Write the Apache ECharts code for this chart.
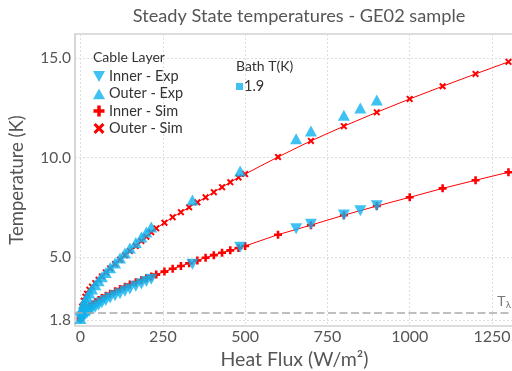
<!DOCTYPE html>
<html><head><meta charset="utf-8">
<script src="https://cdn.jsdelivr.net/npm/echarts@6/dist/echarts.min.js"></script>
<style>html,body{margin:0;padding:0;background:#fff}#c{width:512px;height:371px}</style>
</head><body><div id="c"></div>
<script>
const expFlux = [0,5,10,15,20,27,35,45,55,65,77,90,105,120,135,150,168,185,200,215,340,485,655,700,800,850,900];
const outerExpT = [1.9,2.4,2.65,2.85,3.0,3.18,3.38,3.6,3.8,4.0,4.22,4.45,4.7,4.95,5.2,5.45,5.73,6.0,6.25,6.5,7.87,9.33,10.95,11.34,12.13,12.5,12.9];
const innerExpT = [1.9,1.97,2.04,2.11,2.18,2.27,2.36,2.47,2.58,2.69,2.81,2.93,3.05,3.15,3.27,3.38,3.52,3.64,3.76,3.87,4.63,5.49,6.42,6.64,7.11,7.33,7.58];
const simFlux = [0,5,10,15,20,27,35,45,55,65,77,90,105,120,135,150,168,185,200,215,230,255,280,305,330,355,380,405,430,455,480,500,600,700,800,900,1000,1100,1200,1300];
const innerSimT = [1.9,2.1,2.22,2.32,2.4,2.5,2.6,2.72,2.83,2.93,3.04,3.15,3.27,3.39,3.5,3.61,3.73,3.84,3.93,4.02,4.11,4.26,4.40,4.54,4.68,4.82,4.96,5.09,5.21,5.33,5.45,5.55,6.12,6.6,7.1,7.56,8.0,8.45,8.86,9.26];
const outerSimT = [1.9,2.5,2.8,3.0,3.15,3.35,3.5,3.68,3.85,4.02,4.22,4.42,4.64,4.86,5.08,5.3,5.55,5.8,6.02,6.24,6.44,6.72,7.0,7.25,7.5,7.75,8.0,8.26,8.51,8.76,9.0,9.17,10.03,10.84,11.58,12.28,12.95,13.59,14.21,14.82];
const bathTemps = ['1.9'];
const xTicks = [0,250,500,750,1000,1250];
const yTicks = [1.8,5,10,15];
const tLambda = 2.17;

const FONT = 'Lato';
const TXT = '#555';
const CYAN = '#0fb3ee';
const RED = '#ff0000';
const triDown = 'path://M0,0 L10,0 L5,9 Z';
const triUp = 'path://M5,0 L10,9 L0,9 Z';
const plus = 'path://M3.4,0 H6.6 V3.4 H10 V6.6 H6.6 V10 H3.4 V6.6 H0 V3.4 H3.4 Z';
const cross = 'path://M0,2 L2,0 L5,3 L8,0 L10,2 L7,5 L10,8 L8,10 L5,7 L2,10 L0,8 L3,5 Z';

const zip = (xs, ys) => xs.map((x, i) => [x, ys[i]]);
const chart = echarts.init(document.getElementById('c'), null, {renderer: 'canvas'});
chart.setOption({
  animation: false,
  textStyle: {fontFamily: FONT},
  title: [
    {text: 'Steady State temperatures - GE02 sample', left: 294, top: 2, textAlign: 'center',
     textStyle: {fontFamily: FONT, fontSize: 18.2, fontWeight: 'normal', color: TXT}},
    {text: 'Cable Layer', left: 88, top: 45, textStyle: {fontFamily: FONT, fontSize: 14, fontWeight: 'normal', color: '#333'}},
    {text: 'Bath T(K)', left: 231, top: 54, textStyle: {fontFamily: FONT, fontSize: 14, fontWeight: 'normal', color: '#333'}}
  ],
  grid: {left: 75, top: 34, right: -2, bottom: 45, outerBoundsMode: 'none', containLabel: false,
    show: true, borderColor: '#bbb', borderWidth: 1.2, backgroundColor: 'transparent'},
  xAxis: {
    type: 'value', min: -16.7, max: 1316.8,
    name: 'Heat Flux (W/m²)', nameLocation: 'middle', nameGap: 20,
    nameTextStyle: {fontFamily: FONT, fontSize: 19.5, color: TXT},
    axisLine: {show: false},
    axisTick: {show: false, customValues: xTicks},
    axisLabel: {customValues: xTicks, fontFamily: FONT, fontSize: 16, color: TXT, margin: 3,
      formatter: v => String(v)},
    splitLine: {show: true, lineStyle: {color: '#ddd', type: [2, 2], width: 1}}
  },
  yAxis: {
    type: 'value', min: 1.523, max: 16.22,
    name: 'Temperature (K)', nameLocation: 'middle', nameGap: 48,
    nameTextStyle: {fontFamily: FONT, fontSize: 18.5, color: TXT},
    axisLine: {show: false},
    axisTick: {show: false, customValues: yTicks},
    axisLabel: {customValues: yTicks, fontFamily: FONT, fontSize: 15.5, color: TXT, margin: 4,
      formatter: v => v.toFixed(1)},
    splitLine: {show: true, lineStyle: {color: '#ddd', type: [2, 2], width: 1}}
  },
  legend: [
    {orient: 'vertical', left: 88, top: 64, itemWidth: 12, itemHeight: 11, itemGap: 2.3,
     textStyle: {fontFamily: FONT, fontSize: 14.5, color: '#333', padding: [0,0,0,-1]},
     data: [
       {name: 'Inner - Exp', icon: triDown},
       {name: 'Outer - Exp', icon: triUp},
       {name: 'Inner - Sim', icon: plus},
       {name: 'Outer - Sim', icon: cross}
     ]},
    {orient: 'vertical', left: 231, top: 74, itemWidth: 7, itemHeight: 7, itemGap: 4,
     textStyle: {fontFamily: FONT, fontSize: 14.5, color: '#333', padding: [0,0,0,-4]},
     data: bathTemps.map(b => ({name: b, icon: 'rect'}))}
  ],
  series: [
    {name: 'Inner - Sim', type: 'line', data: zip(simFlux, innerSimT), symbol: plus, symbolSize: 8,
     showAllSymbol: true, clip: false, itemStyle: {color: RED}, lineStyle: {color: RED, width: 1}, z: 2,
     markLine: {silent: true, symbol: 'none', label: {show: false},
       lineStyle: {color: '#aaa', type: [8, 3.5], width: 1.7},
       data: [{yAxis: tLambda}]},
     markPoint: {symbolSize: 0, silent: true,
       label: {show: true, position: 'top', distance: 3, formatter: '{a|T}{b|λ}',
         rich: {a: {fontFamily: FONT, fontSize: 14, color: '#777'}, b: {fontFamily: FONT, fontSize: 10, color: '#777', verticalAlign: 'bottom', padding: [7,0,0,0]}}},
       data: [{coord: [1287, tLambda]}]}},
    {name: 'Outer - Sim', type: 'line', data: zip(simFlux, outerSimT), symbol: cross, symbolSize: 7,
     showAllSymbol: true, clip: false, itemStyle: {color: RED}, lineStyle: {color: RED, width: 1}, z: 2},
    {name: 'Inner - Exp', type: 'scatter', data: zip(expFlux, innerExpT), symbol: triDown, symbolSize: [12, 11],
     itemStyle: {color: CYAN}, z: 3},
    {name: 'Outer - Exp', type: 'scatter', data: zip(expFlux, outerExpT), symbol: triUp, symbolSize: [12, 11],
     itemStyle: {color: CYAN}, z: 3},
    {name: bathTemps[0], type: 'scatter', data: [], itemStyle: {color: CYAN}}
  ]
});
</script></body></html>
